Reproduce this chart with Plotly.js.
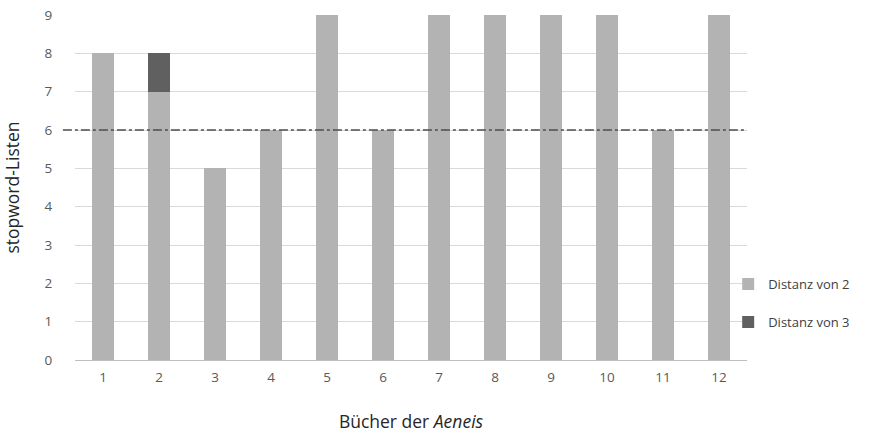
<!DOCTYPE html>
<html>
<head>
<meta charset="utf-8">
<script src="https://cdn.plot.ly/plotly-3.0.1.min.js"></script>
<style>html,body{margin:0;padding:0;background:#fff;}#chart{width:887px;height:434px;}</style>
</head>
<body>
<div id="chart"></div>
<script>
const books = ['1','2','3','4','5','6','7','8','9','10','11','12'];
const distanz2 = [8, 7, 5, 6, 9, 6, 9, 9, 9, 9, 6, 9];
const distanz3 = [null, 1, null, null, null, null, null, null, null, null, null, null];
const seriesNames = ['Distanz von 2', 'Distanz von 3'];
const threshold = 6;

const font = 'Open Sans, Lato, sans-serif';
const traces = [
  {type:'bar', x: books, y: distanz2, name: seriesNames[0], marker:{color:'#b3b3b3'}, legendgroup:'a', hoverinfo:'none'},
  {type:'bar', x: books, y: distanz3, name: seriesNames[1], marker:{color:'#606060'}, legendgroup:'b', hoverinfo:'none'}
];
const layout = {
  width: 887, height: 434,
  margin: {l: 75, r: 140, t: 15, b: 74},
  paper_bgcolor: '#fff', plot_bgcolor: '#fff',
  barmode: 'stack', bargap: 0.62,
  font: {family: font, color: '#595959', size: 13.5},
  showlegend: true,
  legend: {x: 0.972, xanchor: 'left', y: 0.165, yanchor: 'middle', traceorder: 'grouped', tracegroupgap: 18, itemwidth: 30, bgcolor: 'rgba(0,0,0,0)', font:{size:13, color:'#404040'}},
  xaxis: {
    type: 'category', showgrid: false, showline: true, linecolor: '#bfbfbf', linewidth: 1,
    ticks: 'outside', ticklen: 5, tickcolor: 'rgba(0,0,0,0)',
    title: {text: 'Bücher der <i>Aeneis</i>', font: {size: 17.5, color: '#262626'}, standoff: 30}
  },
  yaxis: {
    range: [0, 9], dtick: 1, showgrid: true, gridcolor: '#d9d9d9', zeroline: false,
    ticks: 'outside', ticklen: 19, tickcolor: 'rgba(0,0,0,0)',
    title: {text: 'stopword-Listen', font: {size: 17.5, color: '#262626'}, standoff: 22}
  },
  shapes: [{type:'line', xref:'paper', yref:'y', x0:-0.018, x1:1, y0:threshold, y1:threshold,
    line:{color:'#4d4d4d', width:1.5, dash:'dashdot'}}]
};
Plotly.newPlot('chart', traces, layout, {displayModeBar:false, staticPlot:true});
</script>
</body>
</html>
